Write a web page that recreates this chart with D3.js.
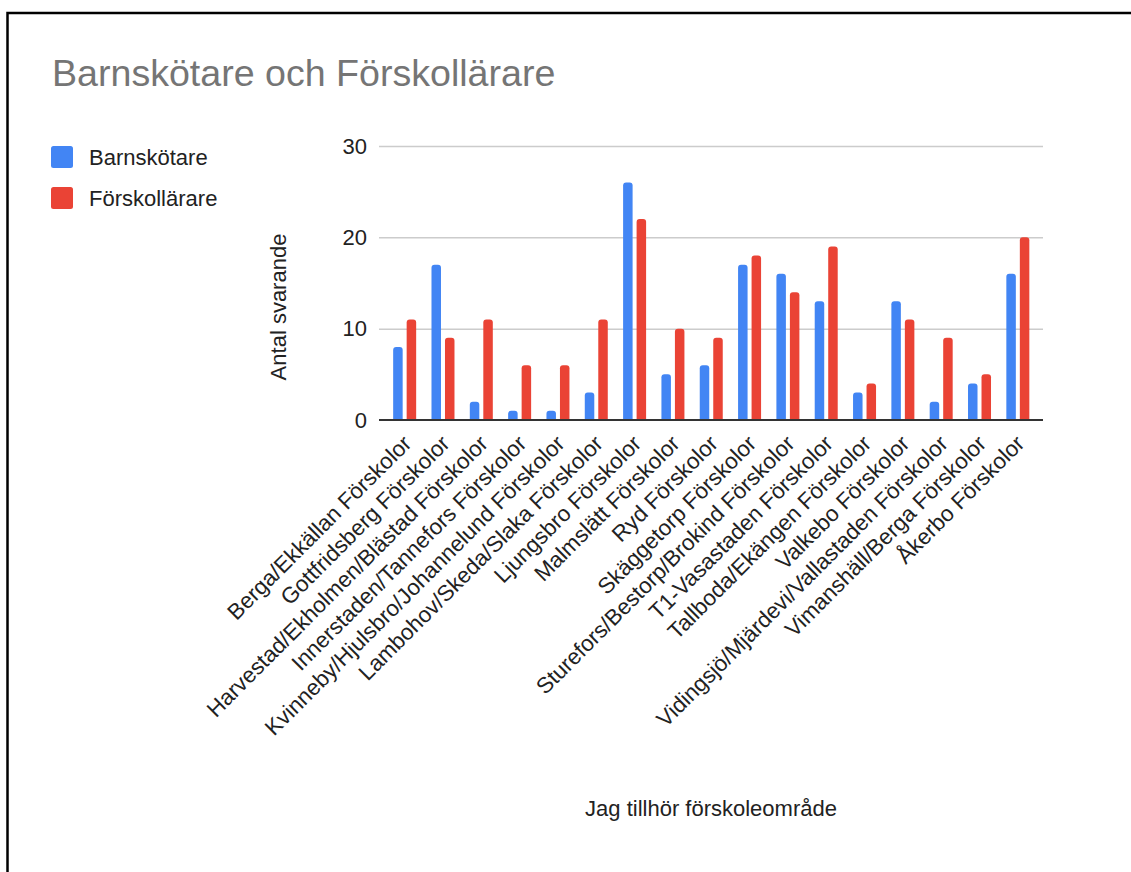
<!DOCTYPE html>
<html>
<head>
<meta charset="utf-8">
<script src="https://cdn.jsdelivr.net/npm/d3@7"></script>
<style>
  html, body { margin: 0; padding: 0; background: #fff; }
  svg { display: block; font-family: "Liberation Sans", Arial, sans-serif; }
</style>
</head>
<body>
<svg id="chart" width="1131" height="872"></svg>
<script>
const categories = [
  "Berga/Ekkällan Förskolor",
  "Gottfridsberg Förskolor",
  "Harvestad/Ekholmen/Blästad Förskolor",
  "Innerstaden/Tannefors Förskolor",
  "Kvinneby/Hjulsbro/Johannelund Förskolor",
  "Lambohov/Skeda/Slaka Förskolor",
  "Ljungsbro Förskolor",
  "Malmslätt Förskolor",
  "Ryd Förskolor",
  "Skäggetorp Förskolor",
  "Sturefors/Bestorp/Brokind Förskolor",
  "T1-Vasastaden Förskolor",
  "Tallboda/Ekängen Förskolor",
  "Valkebo Förskolor",
  "Vidingsjö/Mjärdevi/Vallastaden Förskolor",
  "Vimanshäll/Berga Förskolor",
  "Åkerbo Förskolor"
];
const seriesNames = ["Barnskötare", "Förskollärare"];
const barnskotare   = [8, 17, 2, 1, 1, 3, 26, 5, 6, 17, 16, 13, 3, 13, 2, 4, 16];
const forskollarare = [11, 9, 11, 6, 6, 11, 22, 10, 9, 18, 14, 19, 4, 11, 9, 5, 20];
const yTicks = [0, 10, 20, 30];
const colors = ["#4285f4", "#ea4335"];
const titleText = "Barnskötare och Förskollärare";
const yTitle = "Antal svarande";
const xTitle = "Jag tillhör förskoleområde";

const svg = d3.select("#chart");

// frame
svg.append("path")
  .attr("d", "M7.5,900 L7.5,13 L1140,13")
  .attr("fill", "none").attr("stroke", "#000").attr("stroke-width", 2.5);

const plotL = 379, plotR = 1043, plotT = 146, plotB = 420;

const y = d3.scaleLinear().domain([0, 30]).range([plotB, plotT]);
const x0 = d3.scaleBand().domain(categories).range([385.5, 1037]).padding(0);
const x1 = d3.scaleBand().domain(seriesNames).range([0, 23]).paddingInner(0.296).paddingOuter(0);
const groupOffset = (x0.bandwidth() - 23) / 2;

// title
svg.append("text").attr("x", 52).attr("y", 86)
  .attr("font-size", 37.6).attr("fill", "#757575").text(titleText);

// legend
seriesNames.forEach((s, i) => {
  const g = svg.append("g").attr("transform", `translate(51,${146 + i * 41})`);
  g.append("rect").attr("width", 22).attr("height", 22).attr("rx", 2.5)
    .attr("fill", colors[i]);
  g.append("text").attr("x", 38).attr("y", 18.5).attr("font-size", 22)
    .attr("fill", "#222").text(s);
});

// gridlines + y labels
const yAxis = d3.axisLeft(y).tickValues(yTicks).tickSize(-(plotR - plotL)).tickPadding(12);
const ya = svg.append("g").attr("transform", `translate(${plotL},0)`).call(yAxis);
ya.select(".domain").remove();
ya.selectAll(".tick line").attr("stroke-width", 1.5)
  .attr("stroke", d => d === 0 ? "none" : "#cccccc");
ya.selectAll(".tick text").attr("font-size", 22).attr("fill", "#222")
  .attr("font-family", "'Liberation Sans', Arial, sans-serif");

// y title
svg.append("text")
  .attr("transform", "translate(286,307) rotate(-90)")
  .attr("text-anchor", "middle").attr("font-size", 22).attr("fill", "#222")
  .text(yTitle);

// bars
function topRounded(x, yTop, w, yBot, r) {
  const h = yBot - yTop;
  r = Math.min(r, w / 2, h);
  return `M${x},${yBot} L${x},${yTop + r} Q${x},${yTop} ${x + r},${yTop} L${x + w - r},${yTop} Q${x + w},${yTop} ${x + w},${yTop + r} L${x + w},${yBot} Z`;
}
const data = categories.map((c, i) => ({ c, vals: [barnskotare[i], forskollarare[i]] }));
const groups = svg.append("g").selectAll("g").data(data).join("g")
  .attr("transform", d => `translate(${x0(d.c) + groupOffset},0)`);
groups.selectAll("path").data(d => d.vals.map((v, k) => ({ v, k })))
  .join("path")
  .attr("d", d => topRounded(x1(seriesNames[d.k]), y(d.v), x1.bandwidth(), y(0), 3))
  .attr("fill", d => colors[d.k]);

// baseline
svg.append("line").attr("x1", plotL).attr("x2", plotR)
  .attr("y1", y(0)).attr("y2", y(0)).attr("stroke", "#333").attr("stroke-width", 2);

// x labels
const xa = svg.append("g");
xa.selectAll("text").data(categories).join("text")
  .attr("transform", d => `translate(${x0(d) + x0.bandwidth() / 2 + 8},${plotB + 25}) rotate(-45)`)
  .attr("text-anchor", "end").attr("font-size", 22.3).attr("fill", "#222")
  .text(d => d);

// x title
svg.append("text").attr("x", (plotL + plotR) / 2).attr("y", 816)
  .attr("text-anchor", "middle").attr("font-size", 22).attr("fill", "#222")
  .text(xTitle);
</script>
</body>
</html>
